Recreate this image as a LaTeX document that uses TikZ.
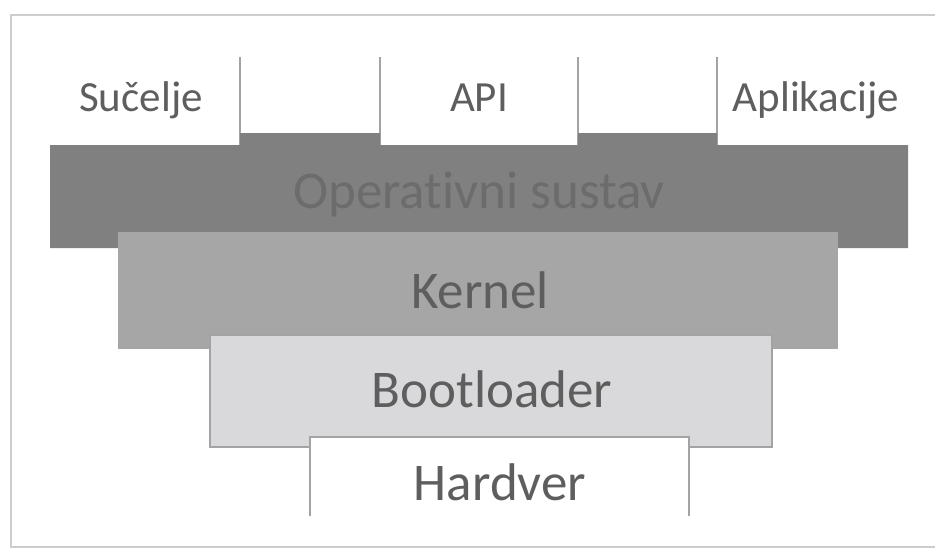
\documentclass[tikz,border=0pt]{standalone}
\usepackage{fontspec}
\setmainfont[Ligatures=NoCommon]{Carlito}
\definecolor{osfill}{HTML}{808080}
\definecolor{osText}{HTML}{6C6C6C}
\definecolor{kfill}{HTML}{A6A6A6}
\definecolor{bfill}{HTML}{D9D9DB}
\definecolor{edge}{HTML}{A3A3A3}
\definecolor{lbl}{HTML}{5E5E5E}
\definecolor{frame}{HTML}{CDCDCD}
\tikzset{
  biglabel/.style={anchor=base, inner sep=0pt, text=lbl, font=\fontsize{53}{60}\selectfont},
  toplabel/.style={anchor=base, inner sep=0pt, text=lbl, font=\fontsize{43}{50}\selectfont},
  edgeline/.style={draw=edge, line width=2pt},
}
\begin{document}
\begin{tikzpicture}[x=1pt,y=-1pt]
\useasboundingbox (0,0) rectangle (935,549);
\fill[white] (0,0) rectangle (935,549);
% outer frame
\draw[frame, line width=2pt] (935,15) -- (11,15) -- (11,547) -- (935,547);
% tab separators
\draw[edgeline] (240,57) -- (240,145);
\draw[edgeline] (380,57) -- (380,145);
\draw[edgeline] (578,57) -- (578,145);
\draw[edgeline] (717,57) -- (717,145);
% operating system bar
\fill[osfill] (50,145) -- (240,145) -- (240,133) -- (380,133) -- (380,145)
  -- (578,145) -- (578,133) -- (717,133) -- (717,145) -- (908,145)
  -- (908,248) -- (50,248) -- cycle;
% kernel
\fill[kfill] (118,232) rectangle (838,349);
% bootloader
\draw[edgeline, fill=bfill] (210,335) rectangle (772,447);
% hardware
\fill[white] (310,437) rectangle (689,520);
\draw[edgeline] (310,516) -- (310,437) -- (689,437) -- (689,516);
% labels
\node[toplabel] (sucelje) at (141,111) {Sučelje};
\node[toplabel] (api) at (479,111) {API};
\node[toplabel] (apl) at (816,111) {Aplikacije};
\node[biglabel, text=osText] (os) at (479,208) {Operat\kern0pt ivni sustav};
\node[biglabel] (kernel) at (480,308) {Kernel};
\node[biglabel] (boot) at (492,407) {Bootloader};
\node[biglabel] (hw) at (500,500) {Hardver};
\end{tikzpicture}
\end{document}
